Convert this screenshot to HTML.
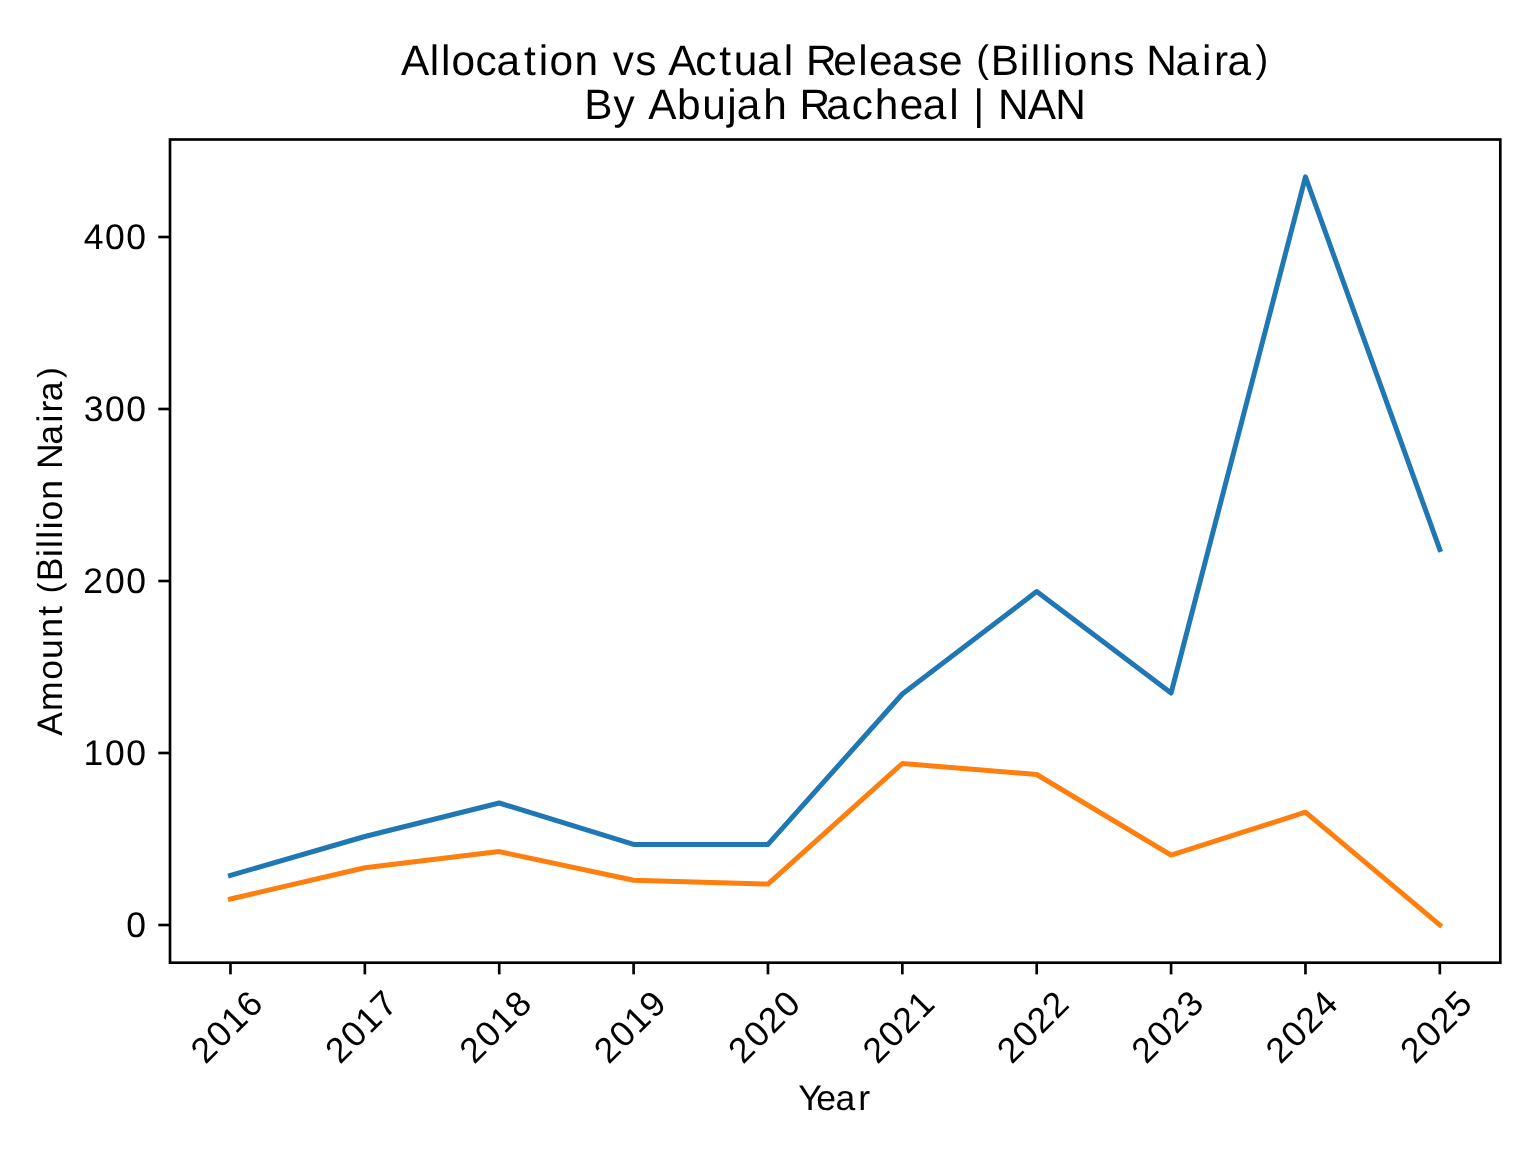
<!DOCTYPE html>
<html><head><meta charset="utf-8"><title>Allocation vs Actual Release</title>
<style>html,body{margin:0;padding:0;background:#fff;}svg{display:block;will-change:transform;}text{font-family:"Liberation Sans",sans-serif;fill:#000;text-rendering:geometricPrecision;}</style>
</head><body>
<svg width="1536" height="1152" viewBox="0 0 1536 1152">
<rect x="0" y="0" width="1536" height="1152" fill="#fff"/>
<text font-size="42.4" xml:space="preserve"><tspan x="401.11 429.79 440.90 451.62 475.56 496.58 523.99 538.69 549.39 574.38 599.23 612.71 635.25 656.46 668.24 695.28 719.20 733.84 757.34 783.75 794.48 805.95 833.32 858.18 869.05 892.01 917.68 939.01 963.49" y="74.70">Allocation vs Actual Release </tspan><tspan x="976.22" y="72.06" font-size="38.24">(</tspan><tspan x="990.85 1019.65 1030.74 1041.86 1052.99 1063.69 1088.68 1113.16 1134.37 1146.26 1175.49 1201.92 1214.09 1227.56" y="74.70">Billions Naira</tspan><tspan x="1255.51" y="72.06" font-size="38.24">)</tspan></text>
<text font-size="42.4" xml:space="preserve"><tspan x="584.29 613.45 636.36 648.14 677.12 702.16 727.27 736.78 763.25 788.16 799.62 826.27 851.75 874.73 899.77 922.73 949.14 959.88 973.35 986.07 997.95 1027.77 1055.24" y="118.80">By Abujah Racheal | NAN</tspan></text>
<polyline points="230.47,875.40 364.84,836.50 499.22,803.00 633.59,844.40 767.96,844.40 902.34,694.00 1036.71,591.50 1171.08,693.00 1305.46,176.80 1439.83,549.60" fill="none" stroke="#1f77b4" stroke-width="5" stroke-linejoin="round" stroke-linecap="square"/>
<polyline points="230.47,899.00 364.84,867.80 499.22,851.60 633.59,880.20 767.96,884.10 902.34,763.50 1036.71,774.50 1171.08,855.10 1305.46,812.20 1439.83,925.00" fill="none" stroke="#ff7f0e" stroke-width="5" stroke-linejoin="round" stroke-linecap="square"/>
<rect x="170.0" y="139.5" width="1330.30" height="823.20" fill="none" stroke="#000" stroke-width="2.67" stroke-linejoin="miter"/>
<line x1="158.33" y1="925.00" x2="170.0" y2="925.00" stroke="#000" stroke-width="2.67"/>
<text font-size="35.5" xml:space="preserve"><tspan x="126.18" y="937.20">0</tspan></text>
<line x1="158.33" y1="753.00" x2="170.0" y2="753.00" stroke="#000" stroke-width="2.67"/>
<text font-size="35.5" xml:space="preserve"><tspan x="83.58 104.97 126.18" y="765.20">100</tspan></text>
<line x1="158.33" y1="581.00" x2="170.0" y2="581.00" stroke="#000" stroke-width="2.67"/>
<text font-size="35.5" xml:space="preserve"><tspan x="83.32 104.97 126.18" y="593.20">200</tspan></text>
<line x1="158.33" y1="409.00" x2="170.0" y2="409.00" stroke="#000" stroke-width="2.67"/>
<text font-size="35.5" xml:space="preserve"><tspan x="83.81 104.97 126.18" y="421.20">300</tspan></text>
<line x1="158.33" y1="237.00" x2="170.0" y2="237.00" stroke="#000" stroke-width="2.67"/>
<text font-size="35.5" xml:space="preserve"><tspan x="83.76 104.97 126.18" y="249.20">400</tspan></text>
<line x1="230.47" y1="962.7" x2="230.47" y2="974.37" stroke="#000" stroke-width="2.67"/>
<text transform="translate(226.70,1026.50) rotate(-45)" font-size="35.5" xml:space="preserve"><tspan x="-42.13 -20.48 0.54 21.93" y="12.20">2016</tspan></text>
<line x1="364.84" y1="962.7" x2="364.84" y2="974.37" stroke="#000" stroke-width="2.67"/>
<text transform="translate(361.07,1026.50) rotate(-45)" font-size="35.5" xml:space="preserve"><tspan x="-42.13 -20.48 0.54 21.87" y="12.20">2017</tspan></text>
<line x1="499.22" y1="962.7" x2="499.22" y2="974.37" stroke="#000" stroke-width="2.67"/>
<text transform="translate(495.45,1026.50) rotate(-45)" font-size="35.5" xml:space="preserve"><tspan x="-42.13 -20.48 0.54 21.93" y="12.20">2018</tspan></text>
<line x1="633.59" y1="962.7" x2="633.59" y2="974.37" stroke="#000" stroke-width="2.67"/>
<text transform="translate(629.82,1026.50) rotate(-45)" font-size="35.5" xml:space="preserve"><tspan x="-42.13 -20.48 0.54 21.83" y="12.20">2019</tspan></text>
<line x1="767.96" y1="962.7" x2="767.96" y2="974.37" stroke="#000" stroke-width="2.67"/>
<text transform="translate(764.19,1026.50) rotate(-45)" font-size="35.5" xml:space="preserve"><tspan x="-42.13 -20.48 0.28 21.93" y="12.20">2020</tspan></text>
<line x1="902.34" y1="962.7" x2="902.34" y2="974.37" stroke="#000" stroke-width="2.67"/>
<text transform="translate(898.57,1026.50) rotate(-45)" font-size="35.5" xml:space="preserve"><tspan x="-42.13 -20.48 0.28 21.75" y="12.20">2021</tspan></text>
<line x1="1036.71" y1="962.7" x2="1036.71" y2="974.37" stroke="#000" stroke-width="2.67"/>
<text transform="translate(1032.94,1026.50) rotate(-45)" font-size="35.5" xml:space="preserve"><tspan x="-42.13 -20.48 0.28 21.49" y="12.20">2022</tspan></text>
<line x1="1171.08" y1="962.7" x2="1171.08" y2="974.37" stroke="#000" stroke-width="2.67"/>
<text transform="translate(1167.32,1026.50) rotate(-45)" font-size="35.5" xml:space="preserve"><tspan x="-42.13 -20.48 0.28 21.98" y="12.20">2023</tspan></text>
<line x1="1305.46" y1="962.7" x2="1305.46" y2="974.37" stroke="#000" stroke-width="2.67"/>
<text transform="translate(1301.69,1026.50) rotate(-45)" font-size="35.5" xml:space="preserve"><tspan x="-42.13 -20.48 0.28 21.93" y="12.20">2024</tspan></text>
<line x1="1439.83" y1="962.7" x2="1439.83" y2="974.37" stroke="#000" stroke-width="2.67"/>
<text transform="translate(1436.06,1026.50) rotate(-45)" font-size="35.5" xml:space="preserve"><tspan x="-42.13 -20.48 0.28 21.80" y="12.20">2025</tspan></text>
<text font-size="35.5" xml:space="preserve"><tspan x="798.21 816.25 835.38 858.30" y="1109.80">Year</tspan></text>
<text transform="translate(61.9,551.10) rotate(-90)" font-size="35.5" xml:space="preserve"><tspan x="-184.63 -159.85 -128.58 -107.90 -86.63 -64.75 -52.83" y="0.00">Amount </tspan><tspan x="-42.20" y="-2.20" font-size="31.87">(</tspan><tspan x="-30.07 -6.03 3.22 12.48 21.76 30.65 51.47 72.20 82.07 106.44 128.49 138.62 149.83" y="0.00">Billion Naira</tspan><tspan x="173.18" y="-2.20" font-size="31.87">)</tspan></text>
</svg>
</body></html>
